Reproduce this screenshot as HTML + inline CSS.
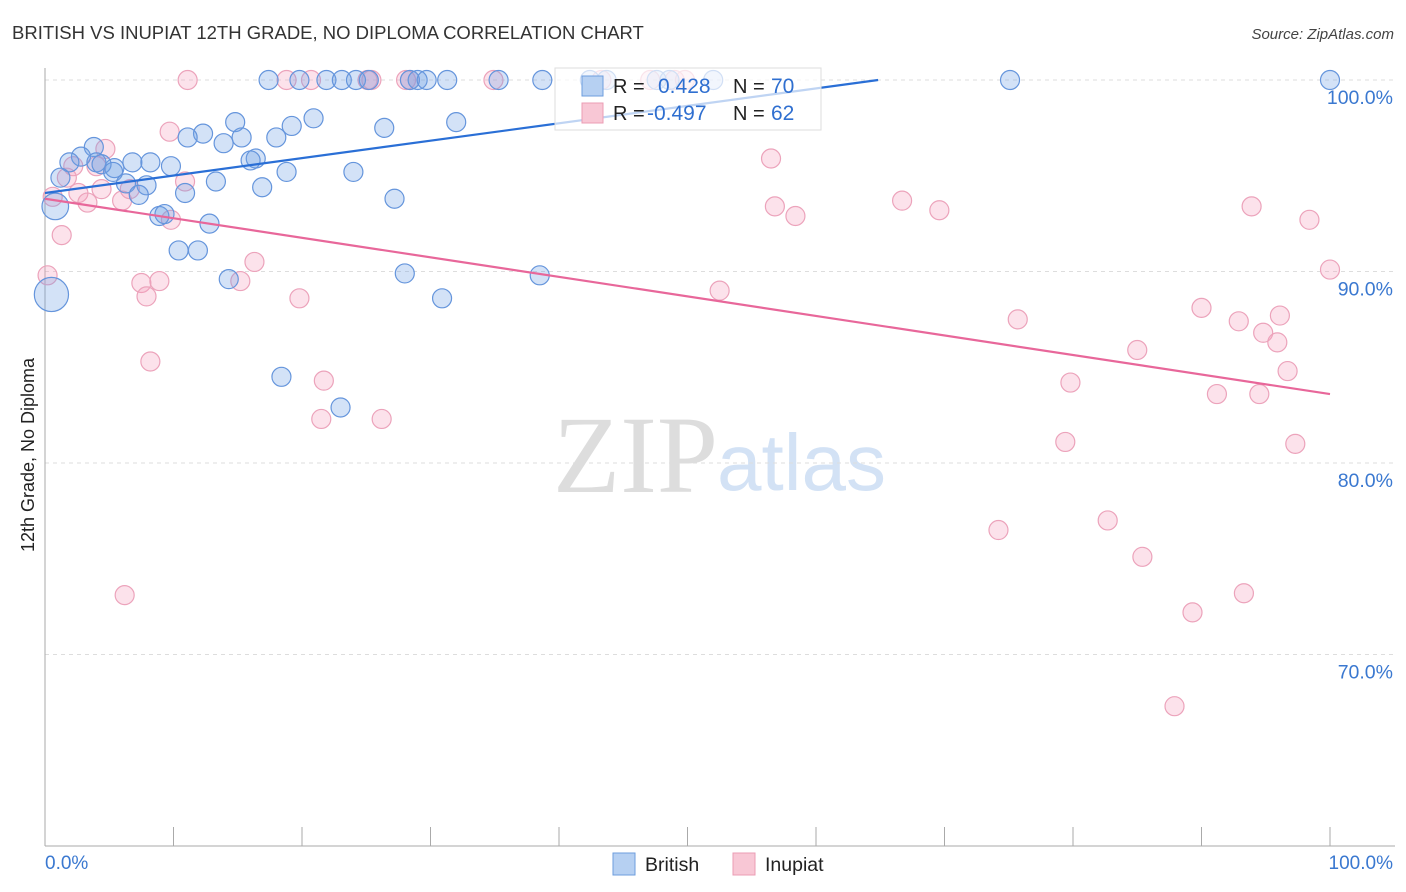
<!DOCTYPE html>
<html><head><meta charset="utf-8"><style>
body{margin:0;background:#fff;font-family:"Liberation Sans",sans-serif}
svg{display:block}
</style></head><body>
<svg id="c" width="1406" height="892" xmlns="http://www.w3.org/2000/svg">
<text x="12" y="39" font-size="18.5" fill="#333">BRITISH VS INUPIAT 12TH GRADE, NO DIPLOMA CORRELATION CHART</text>
<text x="1394" y="39" font-size="15" fill="#444" font-style="italic" text-anchor="end">Source: ZipAtlas.com</text>
<g>
<text x="553" y="492" font-family="Liberation Serif,serif" font-size="110" fill="#ddd">ZIP</text>
<text x="717" y="490" font-size="80" fill="#d3e2f5">atlas</text>
</g>
<g id="grid"></g><g id="axes"></g><g id="pts"></g><g id="trend"></g>
<g>
<rect x="555" y="68" width="266" height="62" fill="#fff" fill-opacity="0.7" stroke="#ddd"/>
<rect x="582" y="76" width="21" height="20" fill="#b6d0f2" stroke="#6d9ede"/>
<rect x="582" y="103" width="21" height="20" fill="#f8c7d5" stroke="#eb9cb4"/>
<text x="613" y="93" font-size="20" fill="#222">R =</text>
<text x="658" y="93" font-size="21" fill="#2f6fd0">0.428</text>
<text x="733" y="93" font-size="20" fill="#222">N =</text>
<text x="771" y="93" font-size="21" fill="#2f6fd0">70</text>
<text x="613" y="120" font-size="20" fill="#222">R =</text>
<text x="647" y="120" font-size="21" fill="#2f6fd0">-0.497</text>
<text x="733" y="120" font-size="20" fill="#222">N =</text>
<text x="771" y="120" font-size="21" fill="#2f6fd0">62</text>
</g>
<g>
<rect x="613" y="853" width="22" height="22" fill="#b6d0f2" stroke="#6d9ede"/>
<text x="645" y="871" font-size="19.5" fill="#222">British</text>
<rect x="733" y="853" width="22" height="22" fill="#f8c7d5" stroke="#eb9cb4"/>
<text x="765" y="871" font-size="19.5" fill="#222">Inupiat</text>
</g>
<text transform="translate(34,455) rotate(-90)" font-size="18" fill="#222" text-anchor="middle">12th Grade, No Diploma</text>
</svg>
<script>
const yTicks=[100,90,80,70];
const yTickLabels=["100.0%","90.0%","80.0%","70.0%"];
const xTicks=[0,10,20,30,40,50,60,70,80,90,100];
const britishX=[17.4,19.8,21.9,23.1,24.2,25.2,28.4,29.0,29.7,31.3,35.3,38.7,42.4,43.7,47.6,48.6,52.0,75.1,100,
20.9,14.8,26.4,32.0,19.2,12.3,11.1,18.0,15.3,13.9,3.8,2.8,1.9,4.0,6.8,8.2,9.8,5.4,4.4,5.3,16.4,16.0,18.8,24.0,1.2,6.3,7.9,13.3,16.9,10.9,7.3,27.2,0.8,8.9,9.3,12.8,10.4,11.9,14.3,28.0,38.5,0.5,30.9,18.4,23.0];
const britishY=[100,100,100,100,100,100,100,100,100,100,100,100,100,100,100,100,100,100,100,
98.0,97.8,97.5,97.8,97.6,97.2,97.0,97.0,97.0,96.7,96.5,96.0,95.7,95.7,95.7,95.7,95.5,95.4,95.6,95.2,95.9,95.8,95.2,95.2,94.9,94.6,94.5,94.7,94.4,94.1,94.0,93.8,93.4,92.9,93.0,92.5,91.1,91.1,89.6,89.9,89.8,88.8,88.6,84.5,82.9];
const britishSize=[];britishX.forEach((v,i)=>britishSize.push(1));britishSize[51]=1.4;britishSize[60]=1.8;
const inupiatX=[11.1,18.8,20.7,25.1,25.4,28.1,28.4,34.9,43.3,47.1,49.0,49.8,
9.7,4.7,1.7,2.2,4.0,2.6,3.3,4.4,6.0,6.6,10.9,9.8,0.6,1.3,0.2,7.5,8.9,7.9,15.2,16.3,19.8,8.2,21.7,21.5,26.2,6.2,56.5,56.8,58.4,66.7,69.6,52.5,75.7,79.8,79.4,85.0,90.0,92.9,93.9,98.4,100,94.8,96.1,95.9,96.7,91.2,94.5,97.3,74.2,82.7,85.4,89.3,93.3,87.9];
const inupiatY=[100,100,100,100,100,100,100,100,100,100,100,100,
97.3,96.4,94.9,95.5,95.5,94.1,93.6,94.3,93.7,94.3,94.7,92.7,93.9,91.9,89.8,89.4,89.5,88.7,89.5,90.5,88.6,85.3,84.3,82.3,82.3,73.1,95.9,93.4,92.9,93.7,93.2,89.0,87.5,84.2,81.1,85.9,88.1,87.4,93.4,92.7,90.1,86.8,87.7,86.3,84.8,83.6,83.6,81.0,76.5,77.0,75.1,72.2,73.2,67.3];
const britishTrend=[94.1,103.2];
const inupiatTrend=[93.8,83.6];
const NS="http://www.w3.org/2000/svg";
const X=v=>45+v*12.85, Y=v=>80+(100-v)*19.15;
function mk(tag,attrs,parent){const e=document.createElementNS(NS,tag);for(const k in attrs)e.setAttribute(k,attrs[k]);document.getElementById(parent).appendChild(e);return e;}
yTicks.forEach((t,i)=>{
 const g=mk('line',{x1:45,x2:1395,y1:Y(t),y2:Y(t),stroke:'#ddd','stroke-dasharray':'4,4'},'grid');
 
 
 const l=mk('text',{x:1393,y:Y(t)+24,'font-size':19.5,fill:'#3a78d0','text-anchor':'end'},'grid');
 
 
 l.textContent=yTickLabels[i];
});
const ax=mk('line',{x1:45,x2:45,y1:68,y2:846,stroke:'#aaa'},'axes');


const bx=mk('line',{x1:45,x2:1395,y1:846,y2:846,stroke:'#aaa'},'axes');


xTicks.forEach(t=>{const k=mk('line',{x1:X(t),x2:X(t),y1:827,y2:846,stroke:'#aaa'},'axes');
 
 });
const x0=mk('text',{x:45,y:869,'font-size':19,fill:'#3a78d0'},'axes');x0.textContent='0.0%';


const x1=mk('text',{x:1393,y:869,'font-size':19,fill:'#3a78d0','text-anchor':'end'},'axes');x1.textContent='100.0%';


inupiatX.forEach((v,i)=>{const c=mk('circle',{cx:X(v),cy:Y(inupiatY[i]),r:9.5,fill:'rgba(244,160,188,0.3)',stroke:'#eca3bb','stroke-width':1.2},'pts');
 
 });
britishX.forEach((v,i)=>{const c=mk('circle',{cx:X(v),cy:Y(britishY[i]),r:9.5*britishSize[i],fill:'rgba(110,160,228,0.3)',stroke:'#6595dc','stroke-width':1.2},'pts');
 
 });
const bx2=(100-britishTrend[0])/(britishTrend[1]-britishTrend[0])*100;
const bt=mk('line',{x1:X(0),y1:Y(britishTrend[0]),x2:X(bx2),y2:Y(100),stroke:'#2a6fd6','stroke-width':2.2},'trend');


const pt=mk('line',{x1:X(0),y1:Y(inupiatTrend[0]),x2:X(100),y2:Y(inupiatTrend[1]),stroke:'#e8679a','stroke-width':2.2},'trend');


</script>
</body></html>
